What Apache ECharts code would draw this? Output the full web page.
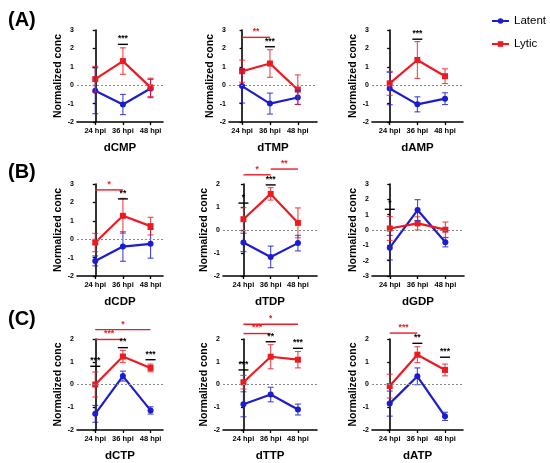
<!DOCTYPE html>
<html>
<head>
<meta charset="utf-8">
<script src="https://cdn.jsdelivr.net/npm/echarts@6/dist/echarts.min.js"></script>
<style>
  html, body { margin: 0; padding: 0; background: #fff; }
  #chart { width: 550px; height: 463px; }
</style>
</head>
<body>
<div id="chart"></div>
<script>
var times = ['24 hpi', '36 hpi', '48 hpi'];
var panels = ['dCMP', 'dTMP', 'dAMP', 'dCDP', 'dTDP', 'dGDP', 'dCTP', 'dTTP', 'dATP'];
var rowLabels = ['(A)', '(B)', '(C)'];

var latentMean = [[-0.3, -1.05, -0.18], [-0.05, -1.0, -0.67], [-0.18, -1.04, -0.73],
                  [-1.18, -0.4, -0.25], [-0.54, -1.17, -0.57], [-1.15, 1.3, -0.8],
                  [-1.29, 0.37, -1.14], [-0.87, -0.44, -1.1], [-0.84, 0.36, -1.4]];
var latentErr = [[1.25, 0.55, 0.5], [0.92, 0.57, 0.38], [0.88, 0.41, 0.32],
                 [0.27, 0.8, 0.78], [0.4, 0.47, 0.34], [0.8, 0.68, 0.3],
                 [0.37, 0.22, 0.16], [0.55, 0.32, 0.24], [0.55, 0.37, 0.18]];
var lyticMean = [[0.33, 1.31, -0.12], [0.76, 1.18, -0.24], [0.1, 1.37, 0.49],
                 [-0.18, 1.27, 0.71], [0.47, 1.57, 0.31], [0.1, 0.43, 0.02],
                 [0.0, 1.23, 0.73], [0.1, 1.22, 1.09], [-0.07, 1.31, 0.64]];
var lyticErr = [[0.7, 0.72, 0.5], [0.6, 0.75, 0.8], [0.65, 1.0, 0.4],
                [0.5, 0.95, 0.48], [0.5, 0.27, 0.65], [0.78, 0.43, 0.5],
                [0.55, 0.27, 0.17], [0.3, 0.53, 0.36], [0.52, 0.35, 0.26]];
var yMin = [-2, -2, -2, -2, -2, -3, -2, -2, -2];
var yMax = [3, 3, 3, 3, 2, 3, 2, 2, 2];

// lytic time comparisons: [panel, from, to, height, stars]
var lyticSig = [[1, 0, 1, 2.6, '**'], [3, 0, 1, 2.68, '*'], [4, 0, 1, 2.4, '*'], [4, 1, 2, 2.65, '**'],
                [6, 0, 2, 2.41, '*'], [6, 0, 1, 1.98, '***'], [7, 0, 2, 2.65, '*'], [7, 0, 1, 2.24, '***'],
                [8, 0, 1, 2.26, '***']];
// latent vs lytic at one time: [panel, time, height, stars]
var groupSig = [[0, 1, 2.22, '***'], [1, 1, 2.09, '***'], [2, 1, 2.5, '***'], [3, 1, 2.19, '**'],
                [4, 0, 1.17, '*'], [4, 1, 1.96, '***'], [5, 0, 1.35, '*'],
                [6, 0, 0.8, '***'], [6, 1, 1.62, '**'], [6, 2, 1.09, '***'],
                [7, 0, 0.64, '***'], [7, 1, 1.88, '**'], [7, 2, 1.59, '***'],
                [8, 1, 1.81, '**'], [8, 2, 1.2, '***']];

var BLUE = '#1c1cd0';
var RED = '#ee1a22';
var FONT = 'Liberation Sans, Arial, sans-serif';

// panel placement
var gridPos = [
    { left: 77, top: 30, width: 86, xmin: -0.66, xmax: 2.45 },
    { left: 229, top: 30, width: 88, xmin: -0.47, xmax: 2.69 },
    { left: 372, top: 30, width: 91, xmin: -0.64, xmax: 2.65 },
    { left: 77, top: 184, width: 86, xmin: -0.66, xmax: 2.45 },
    { left: 223, top: 184, width: 94, xmin: -0.75, xmax: 2.7 },
    { left: 372, top: 184, width: 92, xmin: -0.64, xmax: 2.67 },
    { left: 77, top: 339, width: 86, xmin: -0.66, xmax: 2.45 },
    { left: 223, top: 339, width: 94, xmin: -0.75, xmax: 2.7 },
    { left: 372, top: 339, width: 91, xmin: -0.64, xmax: 2.65 }
];

var myChart = echarts.init(document.getElementById('chart'));

function errRender(params, api) {
    var x = api.value(0), m = api.value(1), e = api.value(2);
    var hi = api.coord([x, m + e]);
    var lo = api.coord([x, m - e]);
    var c = api.visual('color');
    var st = { stroke: c, lineWidth: 1.1, opacity: 0.8 };
    return {
        type: 'group',
        children: [
            { type: 'line', shape: { x1: hi[0], y1: hi[1], x2: lo[0], y2: lo[1] }, style: st },
            { type: 'line', shape: { x1: hi[0] - 3, y1: hi[1], x2: hi[0] + 3, y2: hi[1] }, style: st },
            { type: 'line', shape: { x1: lo[0] - 3, y1: lo[1], x2: lo[0] + 3, y2: lo[1] }, style: st }
        ]
    };
}

function sigRender(list) {
    return function (params, api) {
        var s = list[params.dataIndex];
        var a = api.coord([api.value(0), api.value(2)]);
        var b = api.coord([api.value(1), api.value(2)]);
        var c = api.visual('color');
        var x1 = a[0], x2 = b[0];
        if (x1 === x2) { x1 -= 5; x2 += 5; }
        return {
            type: 'group',
            children: [
                { type: 'line', shape: { x1: x1, y1: a[1], x2: x2, y2: a[1] }, style: { stroke: c, lineWidth: 1.4 } },
                { type: 'text', x: (x1 + x2) / 2, y: a[1] - 1,
                  style: { text: s.stars, fill: c, font: 'bold 8.5px ' + FONT, align: 'center', verticalAlign: 'bottom' } }
            ]
        };
    };
}

var grid = [], xAxis = [], yAxis = [], series = [];
for (var p = 0; p < panels.length; p++) {
    var g = gridPos[p];
    grid.push({ left: g.left, top: g.top, width: g.width, height: 92 });
    xAxis.push({
        type: 'value', gridIndex: p, min: g.xmin, max: g.xmax,
        name: panels[p], nameLocation: 'middle', nameGap: 20,
        nameTextStyle: { fontFamily: FONT, fontWeight: 'bold', fontSize: 11.5, color: '#000' },
        axisLine: { onZero: false, lineStyle: { color: '#000', width: 1.6 } },
        axisTick: { customValues: [0, 1, 2], length: 3, lineStyle: { color: '#000', width: 1.3 } },
        axisLabel: {
            customValues: [0, 1, 2], margin: 5, fontFamily: FONT, fontWeight: 'bold', fontSize: 7.5, color: '#000',
            formatter: function (v) { return times[Math.round(v)]; }
        },
        splitLine: { show: false }
    });
    yAxis.push({
        type: 'value', gridIndex: p, min: yMin[p], max: yMax[p], interval: 1,
        name: 'Normalized conc', nameLocation: 'middle', nameGap: 13,
        nameTextStyle: { fontFamily: FONT, fontWeight: 'bold', fontSize: 10.5, color: '#000' },
        axisLine: { show: true, lineStyle: { color: '#000', width: 1.6 } },
        axisTick: { show: true, length: 2.5, lineStyle: { color: '#000', width: 1.3 } },
        axisLabel: { margin: 3, fontFamily: FONT, fontWeight: 'bold', fontSize: 7, color: '#000' },
        splitLine: { show: false }
    });

    var lat = [], lyt = [], latE = [], lytE = [];
    for (var t = 0; t < times.length; t++) {
        lat.push([t, latentMean[p][t]]);
        lyt.push([t, lyticMean[p][t]]);
        latE.push([t, latentMean[p][t], latentErr[p][t]]);
        lytE.push([t, lyticMean[p][t], lyticErr[p][t]]);
    }

    series.push({
        name: 'Latent', type: 'line', xAxisIndex: p, yAxisIndex: p, data: lat,
        symbol: 'circle', symbolSize: 6, color: BLUE, lineStyle: { width: 2.2 }, z: 3,
        markLine: {
            silent: true, symbol: 'none', label: { show: false },
            lineStyle: { color: '#888', type: [2, 2], width: 1 },
            data: [{ yAxis: 0 }]
        }
    });
    series.push({
        name: 'Lytic', type: 'line', xAxisIndex: p, yAxisIndex: p, data: lyt,
        symbol: 'rect', symbolSize: 6, color: RED, lineStyle: { width: 2.2 }, z: 3
    });
    series.push({
        name: 'Latent SD', type: 'custom', xAxisIndex: p, yAxisIndex: p, data: latE,
        itemStyle: { color: BLUE }, renderItem: errRender, clip: false, z: 4
    });
    series.push({
        name: 'Lytic SD', type: 'custom', xAxisIndex: p, yAxisIndex: p, data: lytE,
        itemStyle: { color: RED }, renderItem: errRender, clip: false, z: 4
    });

    var rs = [], rd = [];
    lyticSig.forEach(function (s) {
        if (s[0] === p) { rs.push({ stars: s[4] }); rd.push([s[1], s[2], s[3]]); }
    });
    if (rd.length) {
        series.push({
            name: 'Lytic sig', type: 'custom', xAxisIndex: p, yAxisIndex: p, data: rd,
            itemStyle: { color: RED }, renderItem: sigRender(rs), clip: false, z: 5
        });
    }
    var bs = [], bd = [];
    groupSig.forEach(function (s) {
        if (s[0] === p) { bs.push({ stars: s[3] }); bd.push([s[1], s[1], s[2]]); }
    });
    if (bd.length) {
        series.push({
            name: 'Group sig', type: 'custom', xAxisIndex: p, yAxisIndex: p, data: bd,
            itemStyle: { color: '#000' }, renderItem: sigRender(bs), clip: false, z: 5
        });
    }
}

var option = {
    animation: false,
    textStyle: { fontFamily: FONT },
    title: rowLabels.map(function (r, i) {
        return {
            text: r, left: 3, top: [5, 157, 304][i],
            textStyle: { fontFamily: FONT, fontWeight: 'bold', fontSize: 20, color: '#000' }
        };
    }),
    legend: {
        data: ['Latent', 'Lytic'], orient: 'vertical', left: 486, top: 10,
        itemWidth: 17, itemHeight: 7, itemGap: 11,
        textStyle: { fontFamily: FONT, fontSize: 11.5, color: '#000' }
    },
    grid: grid,
    xAxis: xAxis,
    yAxis: yAxis,
    series: series
};
myChart.setOption(option);
</script>
</body>
</html>
